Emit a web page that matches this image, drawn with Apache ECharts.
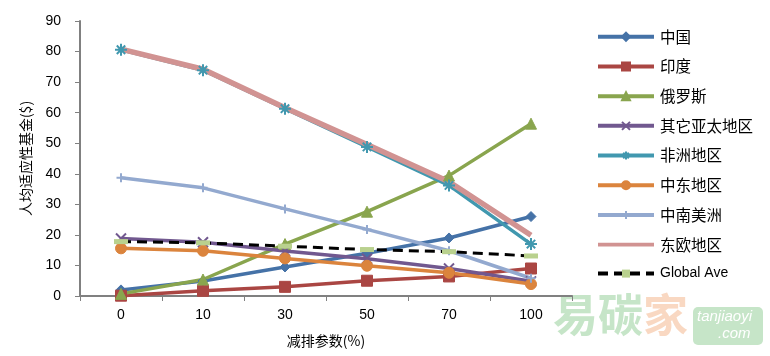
<!DOCTYPE html>
<html><head><meta charset="utf-8">
<script src="https://cdn.jsdelivr.net/npm/echarts@6/dist/echarts.min.js"></script>
<style>html,body{margin:0;padding:0;background:#fff}#c{width:770px;height:356px}</style>
</head><body><div id="c"></div>
<script>
const categories = ['0','10','30','50','70','100'];
const china = [2, 4.9, 9.5, 14, 19, 26];
const india = [0.1, 1.7, 3, 5, 6.4, 9];
const russia = [0.7, 5.4, 17, 27.6, 39.4, 56.4];
const otherAsiaPacific = [18.8, 17.6, 14.7, 12.2, 9, 4.8];
const africa = [80.6, 73.9, 61.3, 48.8, 36.2, 17];
const middleEast = [15.6, 14.8, 12.3, 9.9, 7.6, 3.9];
const latinAmerica = [38.7, 35.4, 28.5, 21.8, 14.8, 5.8];
const easternEurope = [80.8, 74.2, 61.6, 49.6, 37.4, 19.9];
const globalAve = [17.8, 17.4, 16.3, 15.2, 14.5, 13.1];
const yTicks = [0, 90, 10];

const font = 'Liberation Sans, Noto Sans CJK SC, sans-serif';
function s(name, data, color, symbol, size, extra) {
  return Object.assign({
    name, type: 'line', data, symbol, symbolSize: size,
    showSymbol: true,
    lineStyle: {color, width: 3.5},
    itemStyle: {color, borderColor: color, borderWidth: 1},
    emphasis: {disabled: true},
    animation: false
  }, extra || {});
}
const X = 'path://M0,0 L10,10 M10,0 L0,10';
const AST = 'path://M5,0 L5,10 M0,5 L10,5 M1.5,1.5 L8.5,8.5 M8.5,1.5 L1.5,8.5';
const PLUS = 'path://M5,0 L5,10 M0,5 L10,5';
const LINEICON = 'path://M0,0 L0.01,0 L0.01,0.01 Z M0,3.2 L56,3.2 L56,6.8 L0,6.8 Z M0,10 L0.01,10 L0.01,9.99 Z';

const chart = echarts.init(document.getElementById('c'), null, {renderer: 'canvas'});
chart.setOption({
  animation: false,
  textStyle: {fontFamily: font},
  grid: {left: 80, right: 198, top: 21, bottom: 60},
  legend: {
    orient: 'vertical', left: 596, top: 29, padding: 0,
    itemWidth: 56, itemHeight: 10, itemGap: 14.2,
    lineStyle: {width: 4},
    formatter: n => n === 'Global Ave' ? '{l|' + n + '}' : '{c|' + n + '}',
    textStyle: {
      fontSize: 15, color: '#000', fontFamily: 'Noto Sans CJK SC, Liberation Sans',
      rich: {
        c: {fontSize: 15.5, color: '#000', fontFamily: 'Noto Sans CJK SC', padding: [0, 0, 0, 1]},
        l: {fontSize: 14, color: '#000', fontFamily: 'Liberation Sans', padding: [0, 0, 0, 1]}
      }
    },
    data: ['中国','印度','俄罗斯','其它亚太地区','非洲地区','中东地区','中南美洲',
      {name: '东欧地区', icon: LINEICON, itemStyle: {borderWidth: 0, color: '#D19392'}}, 'Global Ave']
  },
  xAxis: {
    type: 'category', data: categories, boundaryGap: true,
    name: '减排参数(%)', nameLocation: 'middle', nameGap: 38,
    nameTextStyle: {fontSize: 14, color: '#000', fontFamily: 'Noto Sans CJK SC, Liberation Sans'},
    axisLine: {lineStyle: {color: '#808080', width: 2}},
    axisTick: {show: true, length: 5, lineStyle: {color: '#808080'}},
    axisLabel: {fontSize: 14, color: '#000', margin: 12}
  },
  yAxis: {
    type: 'value', min: yTicks[0], max: yTicks[1], interval: yTicks[2],
    name: '人均适应性基金($)', nameLocation: 'middle', nameGap: 47, nameRotate: 90,
    nameTextStyle: {fontSize: 14, color: '#000', fontFamily: 'Noto Sans CJK SC, Liberation Sans'},
    axisLine: {show: true, lineStyle: {color: '#808080', width: 2}},
    axisTick: {show: true, length: 5, lineStyle: {color: '#808080'}},
    splitLine: {show: false},
    axisLabel: {fontSize: 14, color: '#000', margin: 19}
  },
  graphic: [
    {type: 'text', left: 553, top: 292, style: {text: '易碳', font: 'bold 45px Noto Sans CJK SC', fill: '#c6e5c8'}, silent: true},
    {type: 'text', left: 643, top: 292, style: {text: '家', font: 'bold 45px Noto Sans CJK SC', fill: '#f9d8c2'}, silent: true},
    {type: 'rect', left: 693, top: 307, shape: {width: 70, height: 38, r: 5}, style: {fill: '#c6e5c8'}, silent: true},
    {type: 'text', left: 697, top: 309, style: {text: 'tanjiaoyi', font: 'italic 15px Liberation Sans', fill: '#fff'}, silent: true},
    {type: 'text', left: 718, top: 326, style: {text: '.com', font: 'italic 15px Liberation Sans', fill: '#fff'}, silent: true}
  ],
  series: [
    s('中国', china, '#4572A7', 'diamond', 10),
    s('印度', india, '#AA4643', 'rect', 11),
    s('俄罗斯', russia, '#89A54E', 'triangle', 11),
    s('其它亚太地区', otherAsiaPacific, '#71588F', X, 10, {itemStyle: {color: '#71588F', borderColor: '#71588F', borderWidth: 2}}),
    s('非洲地区', africa, '#4198AF', AST, 12, {itemStyle: {color: '#4198AF', borderColor: '#4198AF', borderWidth: 2}}),
    s('中东地区', middleEast, '#DB843D', 'circle', 11),
    s('中南美洲', latinAmerica, '#93A9CF', PLUS, 9, {itemStyle: {color: '#93A9CF', borderColor: '#93A9CF', borderWidth: 2}}),
    s('东欧地区', easternEurope, '#D19392', 'none', 1, {lineStyle: {color: '#D19392', width: 5.5}}),
    s('Global Ave', globalAve, '#000', 'rect', [14, 5], {
      lineStyle: {color: '#000', width: 3, type: [10, 6]},
      itemStyle: {color: '#B9D18E', borderWidth: 0}
    })
  ]
});
</script></body></html>
